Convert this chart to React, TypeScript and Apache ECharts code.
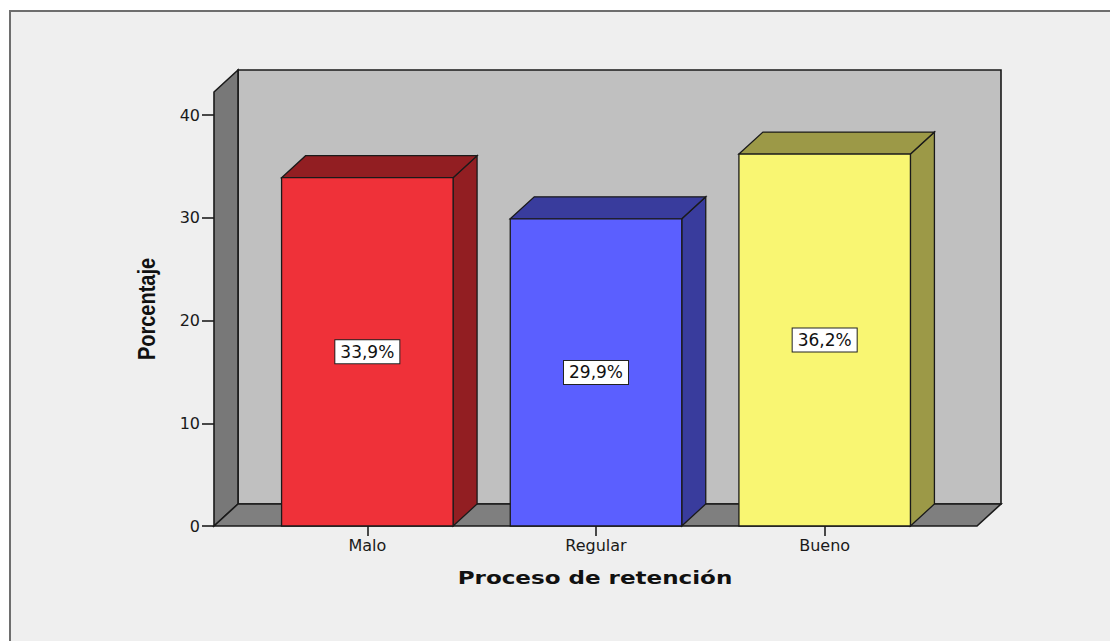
import React, { useEffect, useRef } from "react";
import * as echarts from "echarts";

const categories = ["Malo", "Regular", "Bueno"];
const percentages = [33.9, 29.9, 36.2];
const yMin = 0;
const yMax = 40;
const yInterval = 10;
const xTitle = "Proceso de retención";
const yTitle = "Porcentaje";

const frontColors = ["#EF3139", "#5B5FFF", "#F9F672"];
const shadeColors = ["#921E22", "#393C9D", "#9C9947"];

const DX = 24;
const DY = 22;
const BAR_RATIO = 0.75;
const EDGE = "#1a1a1a";

const fmt = (v: number) => v.toFixed(1).replace(".", ",") + "%";

export default function App() {
  const ref = useRef<HTMLDivElement>(null);
  useEffect(() => {
    if (!ref.current) return;
    const chart = echarts.init(ref.current, undefined, { renderer: "svg" });
    const option: any = {
      animation: false,
      backgroundColor: "#ffffff",
      graphic: [
        {
          type: "rect",
          z: -10,
          shape: { x: 10, y: 11, width: 1120, height: 650 },
          style: { fill: "#efefef", stroke: "#6e6e6e", lineWidth: 2 },
        },
        {
          type: "text",
          z: 10,
          x: 595,
          y: 578,
          scaleX: 1.28,
          style: {
            text: xTitle,
            fontFamily: "DejaVu Sans",
            fontWeight: "bold",
            fontSize: 18,
            fill: "#111",
            align: "center",
            verticalAlign: "middle",
          },
        },
        {
          type: "text",
          z: 10,
          x: 147,
          y: 309,
          rotation: Math.PI / 2,
          scaleY: 1.22,
          style: {
            text: yTitle,
            fontFamily: "Liberation Sans",
            fontWeight: "bold",
            fontSize: 20,
            fill: "#111",
            align: "center",
            verticalAlign: "middle",
          },
        },
      ],
      grid: { left: 253, right: 171, top: 115, bottom: 115, containLabel: false },
      xAxis: {
        type: "category",
        data: categories,
        axisLine: { show: false },
        axisTick: {
          show: true,
          alignWithLabel: true,
          length: 10,
          lineStyle: { color: "#111", width: 1.5 },
        },
        axisLabel: {
          margin: 11,
          fontSize: 16,
          fontFamily: "DejaVu Sans",
          color: "#1a1a1a",
        },
        splitLine: { show: false },
      },
      yAxis: {
        type: "value",
        min: yMin,
        max: yMax,
        interval: yInterval,
        offset: 39,
        axisLine: { show: false },
        axisTick: { show: true, length: 12, lineStyle: { color: "#111", width: 1.5 } },
        axisLabel: {
          margin: 14,
          fontSize: 16,
          fontFamily: "DejaVu Sans",
          color: "#1a1a1a",
        },
        splitLine: { show: false },
      },
      series: [
        {
          type: "custom",
          z: 1,
          silent: true,
          data: [[0, 0]],
          renderItem: (params: any, api: any) => {
            const cs = params.coordSys;
            const left = cs.x - 39;
            const right = cs.x + cs.width + 38;
            const bottom = cs.y + cs.height;
            const top = cs.y - 23;
            const style = { stroke: EDGE, lineWidth: 1.6 };
            return {
              type: "group",
              children: [
                {
                  type: "rect",
                  shape: { x: left + DX, y: top - DY, width: right - left, height: bottom - top },
                  style: { fill: "#c0c0c0", ...style },
                },
                {
                  type: "polygon",
                  shape: {
                    points: [
                      [left, top],
                      [left + DX, top - DY],
                      [left + DX, bottom - DY],
                      [left, bottom],
                    ],
                  },
                  style: { fill: "#787878", ...style },
                },
                {
                  type: "polygon",
                  shape: {
                    points: [
                      [left, bottom],
                      [left + DX, bottom - DY],
                      [right + DX, bottom - DY],
                      [right, bottom],
                    ],
                  },
                  style: { fill: "#7f7f7f", ...style },
                },
              ],
            };
          },
        },
        {
          type: "custom",
          z: 2,
          data: percentages.map((v, i) => [i, v]),
          encode: { x: 0, y: 1 },
          renderItem: (params: any, api: any) => {
            const i = api.value(0);
            const v = api.value(1);
            const idx = params.dataIndex;
            const topP = api.coord([i, v]);
            const baseP = api.coord([i, 0]);
            const mid = api.coord([i, v / 2]);
            const bw = api.size([1, 0])[0] * BAR_RATIO;
            const x0 = topP[0] - bw / 2;
            const x1 = topP[0] + bw / 2;
            const yt = topP[1];
            const yb = baseP[1];
            const es = { stroke: EDGE, lineWidth: 1.3 };
            return {
              type: "group",
              children: [
                {
                  type: "polygon",
                  shape: {
                    points: [
                      [x1, yt],
                      [x1 + DX, yt - DY],
                      [x1 + DX, yb - DY],
                      [x1, yb],
                    ],
                  },
                  style: { fill: shadeColors[idx], ...es },
                },
                {
                  type: "polygon",
                  shape: {
                    points: [
                      [x0, yt],
                      [x0 + DX, yt - DY],
                      [x1 + DX, yt - DY],
                      [x1, yt],
                    ],
                  },
                  style: { fill: shadeColors[idx], ...es },
                },
                {
                  type: "rect",
                  shape: { x: x0, y: yt, width: bw, height: yb - yt },
                  style: { fill: frontColors[idx], ...es },
                },
                {
                  type: "text",
                  x: mid[0],
                  y: mid[1],
                  style: {
                    text: fmt(v),
                    fontFamily: "DejaVu Sans",
                    fontSize: 17,
                    fill: "#111",
                    align: "center",
                    verticalAlign: "middle",
                    backgroundColor: "#ffffff",
                    borderColor: "#222",
                    borderWidth: 1,
                    padding: [3, 5, 3, 5],
                  },
                },
              ],
            };
          },
        },
      ],
    };
    chart.setOption(option);
    return () => chart.dispose();
  }, []);
  return (
    <div
      ref={ref}
      style={{ position: "fixed", left: 0, top: 0, width: 1110, height: 641 }}
    />
  );
}
